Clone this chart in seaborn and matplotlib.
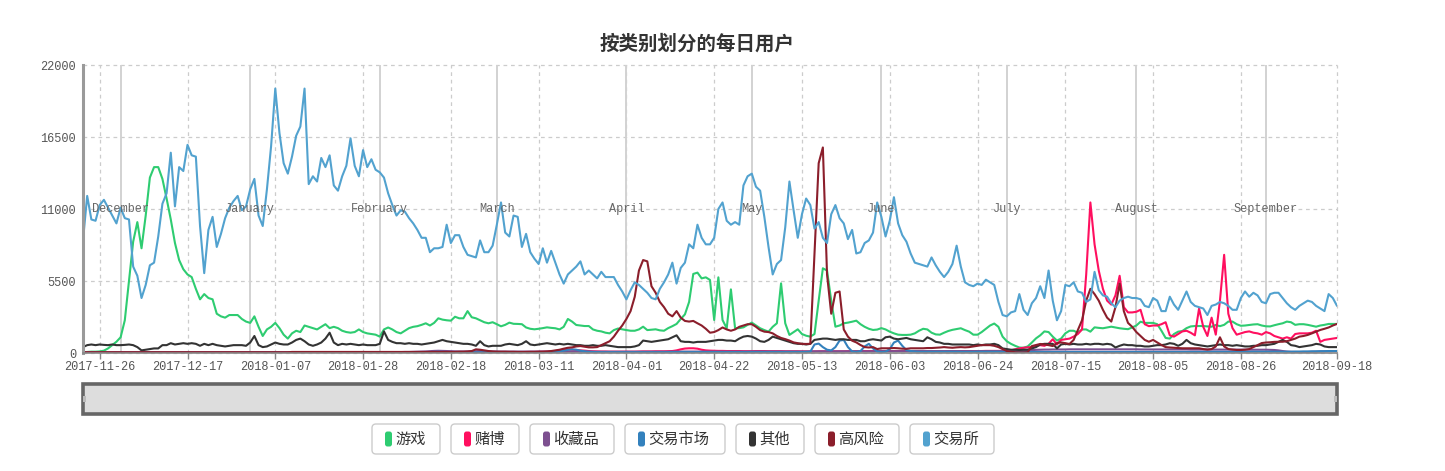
import numpy as np
import pandas as pd
import matplotlib
matplotlib.use("Agg")
import matplotlib.pyplot as plt
import seaborn as sns
from matplotlib.patches import FancyBboxPatch, Rectangle

# ---------------- data ----------------
title = "按类别划分的每日用户"
categories = ["游戏", "赌博", "收藏品", "交易市场", "其他", "高风险", "交易所"]
colors = ["#2ecc71", "#ff0f5f", "#7d5090", "#3381bd", "#333333", "#8b1e2b", "#52a2cf"]
start_date = "2017-11-22"
end_date = "2018-09-18"

x_tick_labels = ["2017-11-26", "2017-12-17", "2018-01-07", "2018-01-28", "2018-02-18",
                 "2018-03-11", "2018-04-01", "2018-04-22", "2018-05-13", "2018-06-03",
                 "2018-06-24", "2018-07-15", "2018-08-05", "2018-08-26", "2018-09-18"]
y_ticks = [0, 5500, 11000, 16500, 22000]
month_starts = ["2017-12-01", "2018-01-01", "2018-02-01", "2018-03-01", "2018-04-01",
                "2018-05-01", "2018-06-01", "2018-07-01", "2018-08-01", "2018-09-01"]
month_names = ["December", "January", "February", "March", "April",
               "May", "June", "July", "August", "September"]

game = [
    50, 80, 100, 100, 120, 180, 350, 600, 860, 1200,
    2500, 5500, 8500, 10000, 8000, 10500, 13400, 14200, 14200, 13300,
    11800, 10200, 8400, 7100, 6400, 6000, 5800, 4900, 4100, 4500,
    4200, 4100, 3000, 2800, 2700, 2900, 2900, 2900, 2600, 2400,
    2300, 2800, 2000, 1300, 1800, 2000, 2300, 1900, 1400, 1100,
    1500, 1700, 1600, 2100, 2000, 1900, 1800, 2000, 2200, 1900,
    2000, 1900, 1700, 1600, 1550, 1600, 1800, 1600, 1500, 1450,
    1400, 1250, 1800, 1950, 1800, 1600, 1500, 1700, 1900, 2000,
    2050, 2150, 2270, 2100, 2300, 2650, 2550, 2500, 2470, 2770,
    2650, 2650, 3200, 2730, 2650, 2500, 2350, 2270, 2350, 2200,
    2040, 2150, 2320, 2230, 2220, 2200, 1950, 1850, 1810, 1850,
    1900, 1960, 1920, 1890, 1800, 2000, 2600, 2400, 2140, 2100,
    2060, 2060, 1800, 1700, 1650, 1550, 1500, 1750, 1870, 1810,
    1750, 1700, 1700, 1800, 2010, 1750, 1780, 1810, 1730, 1700,
    1900, 2050, 2220, 2600, 2950, 3900, 6040, 6140, 5700, 5780,
    5580, 2520, 5780, 2520, 1890, 4860, 1890, 1900, 1960, 2150,
    2320, 2100, 1890, 1750, 1630, 2000, 2270, 5320, 2270, 1380,
    1600, 1810, 1450, 1320, 1250, 1450, 4000, 6470, 6300, 4000,
    2010, 2100, 2270, 2320, 2390, 2470, 2200, 2000, 1850, 1760,
    1790, 1900, 1800, 1630, 1500, 1400, 1380, 1380, 1400, 1500,
    1700, 1850, 1800, 1550, 1420, 1400, 1550, 1680, 1770, 1830,
    1890, 1750, 1630, 1400, 1400, 1600, 1850, 2100, 2250, 2000,
    1250, 900, 700, 550, 420, 400, 500, 800, 1120, 1350,
    1650, 1600, 1250, 950, 1100, 1500, 1700, 1700, 1550, 1800,
    1800, 1630, 1960, 1920, 1890, 1950, 2010, 1950, 1890, 1850,
    1820, 1950, 2100, 2390, 2300, 2300, 2300, 2200, 1700, 1150,
    1100, 1450, 1630, 1680, 1900, 2030, 2060, 2060, 2060, 2030,
    2010, 2140, 2050, 2150, 2400, 2400, 2200, 2080, 2100, 2140,
    2180, 2200, 2100, 2040, 2030, 2120, 2200, 2270, 2400, 2350,
    2150, 2200, 2200, 2150, 2080, 2010, 2100, 2150, 2220, 2220,
    2220,
]

gambling = [
    40, 40, 40, 40, 40, 40, 40, 40, 40, 40,
    40, 40, 40, 40, 40, 40, 40, 40, 40, 40,
    40, 40, 40, 40, 40, 40, 40, 40, 40, 40,
    40, 40, 40, 40, 40, 40, 40, 40, 40, 40,
    40, 40, 40, 40, 40, 40, 40, 40, 40, 40,
    40, 40, 40, 40, 40, 40, 40, 40, 40, 40,
    40, 40, 40, 40, 40, 40, 40, 40, 40, 40,
    40, 40, 40, 40, 40, 40, 40, 40, 40, 40,
    40, 40, 40, 40, 40, 40, 40, 40, 40, 40,
    40, 40, 40, 40, 50, 50, 50, 50, 50, 50,
    60, 60, 60, 70, 70, 70, 80, 80, 80, 90,
    100, 100, 120, 150, 200, 250, 270, 250, 230, 200,
    180, 150, 130, 120, 110, 110, 100, 100, 100, 100,
    100, 100, 100, 110, 120, 120, 120, 130, 130, 130,
    140, 150, 200, 280, 340, 360, 360, 330, 250, 200,
    180, 170, 160, 160, 150, 150, 150, 150, 140, 140,
    140, 150, 150, 150, 140, 140, 140, 140, 130, 130,
    130, 130, 120, 120, 120, 120, 130, 130, 130, 130,
    130, 130, 130, 140, 140, 140, 150, 150, 150, 150,
    150, 150, 150, 150, 150, 150, 150, 150, 150, 150,
    150, 140, 140, 140, 140, 140, 140, 150, 150, 150,
    150, 150, 150, 150, 150, 150, 160, 160, 160, 160,
    160, 170, 200, 280, 350, 400, 430, 450, 550, 600,
    550, 700, 1050, 650, 1000, 1050, 1100, 1250, 1450, 1800,
    6000, 11500, 8300, 6300, 4900, 4000, 3700, 4400, 5900, 3500,
    3100, 3100, 3150, 3300, 2200, 2050, 2100, 2100, 2200, 2350,
    1350, 1250, 1450, 1650, 1700, 1550, 1350, 3400, 2000, 1300,
    2700, 1400, 4000, 7500, 3000, 1900, 1400, 1500, 1600, 1650,
    1550, 1500, 1400, 1600, 1500, 1300, 1200, 1100, 1200, 1100,
    1450, 1500, 1500, 1500, 1550, 1700, 850, 1000, 1050, 1100,
    1150,
]

collectibles = [
    30, 30, 30, 30, 30, 30, 30, 30, 40, 40,
    40, 40, 40, 40, 40, 40, 40, 40, 40, 40,
    40, 40, 40, 40, 40, 40, 40, 40, 40, 40,
    40, 40, 40, 40, 40, 40, 40, 40, 40, 40,
    50, 50, 50, 50, 50, 50, 50, 50, 50, 50,
    50, 50, 50, 50, 50, 50, 50, 50, 50, 50,
    60, 60, 60, 60, 60, 60, 60, 60, 60, 60,
    60, 60, 60, 60, 70, 70, 70, 80, 80, 90,
    100, 110, 120, 140, 160, 170, 160, 150, 140, 130,
    120, 120, 120, 130, 140, 150, 140, 130, 120, 120,
    110, 110, 110, 110, 110, 110, 110, 110, 110, 110,
    110, 110, 110, 110, 110, 110, 110, 110, 110, 110,
    100, 100, 100, 100, 100, 100, 100, 100, 100, 100,
    100, 100, 100, 100, 100, 100, 100, 100, 100, 100,
    100, 110, 110, 110, 110, 110, 110, 110, 110, 110,
    110, 110, 110, 110, 110, 110, 110, 110, 110, 110,
    120, 120, 120, 120, 120, 120, 120, 120, 120, 120,
    120, 120, 120, 120, 120, 130, 130, 130, 130, 130,
    130, 130, 130, 130, 130, 130, 130, 130, 130, 130,
    140, 140, 140, 140, 140, 140, 140, 140, 140, 140,
    140, 140, 140, 140, 140, 140, 140, 140, 140, 140,
    140, 140, 140, 140, 150, 150, 150, 150, 150, 150,
    150, 150, 160, 160, 170, 180, 200, 220, 240, 250,
    260, 260, 270, 270, 270, 270, 280, 280, 280, 280,
    280, 280, 280, 280, 280, 280, 280, 280, 280, 280,
    280, 280, 280, 270, 270, 270, 270, 270, 270, 270,
    270, 270, 270, 270, 270, 260, 260, 260, 260, 260,
    260, 260, 260, 260, 260, 260, 260, 260, 260, 250,
    250, 250, 250, 250, 240, 230, 200, 150, 110, 90,
    80, 80, 80, 80, 90, 100, 110, 120, 130, 140,
    150,
]

marketplaces = [
    20, 20, 20, 20, 20, 20, 20, 20, 20, 20,
    20, 20, 20, 20, 20, 20, 20, 20, 20, 20,
    20, 20, 20, 20, 20, 20, 20, 20, 20, 20,
    20, 20, 20, 20, 20, 20, 20, 20, 20, 20,
    20, 20, 20, 20, 20, 20, 20, 20, 20, 20,
    30, 30, 30, 30, 30, 30, 30, 30, 30, 30,
    30, 30, 30, 30, 30, 30, 30, 30, 30, 30,
    30, 30, 30, 30, 30, 30, 30, 30, 30, 30,
    40, 50, 60, 70, 80, 90, 80, 70, 60, 50,
    50, 50, 50, 50, 50, 50, 50, 50, 50, 50,
    50, 50, 50, 50, 50, 50, 50, 50, 50, 50,
    50, 60, 70, 90, 120, 180, 240, 280, 250, 180,
    130, 100, 80, 70, 60, 60, 60, 60, 60, 60,
    60, 60, 60, 60, 60, 60, 60, 60, 60, 60,
    70, 70, 70, 70, 70, 70, 70, 70, 70, 70,
    70, 70, 70, 70, 70, 70, 70, 70, 70, 70,
    70, 70, 70, 70, 70, 70, 70, 70, 70, 70,
    70, 70, 70, 80, 100, 650, 720, 450, 250, 200,
    450, 950, 1000, 450, 120, 80, 150, 500, 700, 350,
    120, 80, 100, 300, 800, 950, 550, 220, 150, 120,
    100, 100, 100, 100, 100, 100, 100, 100, 100, 100,
    90, 90, 90, 90, 90, 90, 90, 90, 90, 90,
    80, 80, 80, 80, 80, 80, 80, 80, 80, 80,
    80, 80, 80, 80, 80, 80, 80, 80, 80, 80,
    80, 80, 80, 80, 80, 80, 80, 80, 80, 80,
    80, 80, 80, 80, 80, 80, 80, 80, 80, 80,
    80, 80, 80, 80, 80, 80, 80, 80, 80, 80,
    90, 90, 90, 90, 90, 90, 90, 90, 90, 90,
    100, 100, 100, 100, 100, 100, 100, 100, 100, 100,
    110, 110, 120, 120, 130, 130, 140, 140, 150, 150,
    150,
]

other = [
    450, 600, 650, 600, 650, 620, 600, 650, 600, 600,
    620, 650, 600, 450, 200, 250, 300, 350, 350, 600,
    600, 750, 650, 700, 750, 700, 750, 700, 550, 700,
    600, 700, 600, 550, 500, 550, 600, 600, 600, 550,
    800, 1300, 600, 450, 500, 650, 800, 700, 650, 650,
    800, 1000, 1100, 900, 650, 550, 650, 800, 1100, 1550,
    800, 600, 700, 650, 700, 650, 600, 650, 600, 600,
    600, 700, 1650, 1000, 850, 750, 750, 700, 750, 700,
    700, 650, 700, 750, 800, 900, 1000, 900, 850, 800,
    750, 700, 700, 650, 550, 900, 600, 500, 550, 550,
    550, 650, 700, 650, 600, 700, 900, 650, 600, 650,
    700, 750, 700, 650, 700, 650, 700, 650, 600, 600,
    550, 550, 600, 550, 550, 600, 550, 500, 450, 450,
    450, 450, 500, 600, 950, 900, 850, 900, 950, 1000,
    1050, 1200, 1350, 900, 850, 850, 800, 850, 850, 850,
    900, 950, 1000, 1000, 950, 950, 900, 1100, 1250, 1300,
    1250, 1100, 900, 850, 1000, 1250, 1150, 1050, 950, 850,
    750, 700, 700, 650, 700, 1000, 1050, 1100, 1100, 1050,
    1000, 1050, 1050, 1000, 1000, 1000, 900, 900, 1000, 1050,
    1000, 950, 1200, 1250, 1100, 1050, 1100, 1150, 1050, 1000,
    950, 900, 1200, 1050, 850, 800, 700, 700, 650, 650,
    650, 650, 650, 600, 650, 600, 650, 650, 700, 600,
    350, 300, 250, 250, 230, 250, 250, 350, 450, 650,
    700, 700, 700, 350, 650, 700, 650, 700, 650, 650,
    700, 650, 700, 700, 650, 700, 650, 420, 550, 650,
    600, 600, 550, 550, 500, 500, 550, 600, 600, 650,
    750, 700, 550, 700, 1000, 750, 650, 600, 550, 500,
    550, 600, 650, 600, 600, 550, 600, 550, 500, 500,
    550, 550, 600, 600, 650, 700, 850, 1000, 850, 600,
    550, 450, 500, 550, 600, 700, 650, 500, 450, 450,
    450,
]

high_risk = [
    60, 60, 60, 60, 60, 60, 60, 60, 60, 60,
    60, 60, 60, 60, 60, 60, 60, 60, 60, 60,
    60, 60, 60, 60, 60, 60, 60, 60, 60, 60,
    60, 60, 60, 60, 60, 60, 60, 60, 60, 60,
    60, 60, 60, 60, 60, 60, 60, 60, 60, 60,
    80, 80, 80, 80, 80, 80, 80, 80, 80, 80,
    80, 80, 80, 80, 80, 80, 80, 80, 80, 80,
    80, 80, 80, 80, 80, 80, 80, 80, 80, 80,
    80, 80, 80, 80, 80, 80, 80, 80, 80, 80,
    100, 100, 120, 150, 280, 250, 200, 150, 120, 100,
    100, 100, 90, 90, 80, 80, 80, 90, 90, 100,
    100, 120, 150, 200, 250, 330, 400, 430, 500, 530,
    480, 430, 430, 450, 600, 750, 900, 1250, 1700, 2100,
    2600, 3200, 4300, 6300, 7100, 7000, 5100, 4600, 3900, 3500,
    3000, 2800, 3200, 2700, 2450, 2400, 2450, 2270, 2100, 1850,
    1550, 1600, 1750, 1950, 1800, 1700, 1800, 2000, 2100, 2200,
    2200, 2000, 1750, 1630, 1600, 1500, 1300, 1150, 1060, 950,
    810, 750, 700, 690, 700, 7600, 14500, 15700, 6000, 3000,
    4600, 4700, 1800, 1250, 940, 810, 610, 450, 420, 450,
    300, 360, 360, 360, 380, 360, 330, 320, 360, 360,
    360, 360, 380, 380, 400, 420, 450, 420, 400, 430,
    450, 430, 450, 500, 550, 600, 600, 600, 550, 450,
    300, 150, 100, 60, 50, 50, 60, 530, 610, 690,
    650, 600, 530, 760, 810, 750, 690, 1000, 1760, 2500,
    4000, 4900, 4500, 4000, 3300, 2700, 2400, 3500, 5300, 3200,
    2300, 2000, 1600, 1300, 1000, 860, 1000, 800, 610, 450,
    420, 400, 380, 360, 360, 360, 360, 360, 300, 260,
    300, 500, 1200, 500, 300, 260, 230, 230, 250, 300,
    450, 600, 760, 800, 820, 850, 860, 860, 900, 1000,
    1100, 1250, 1300, 1380, 1500, 1630, 1760, 1850, 1950, 2100,
    2220,
]

exchanges = [
    8600, 12000, 10200, 10100, 11300, 11700, 11100, 10500, 9900, 11100,
    10300, 10200, 6600, 5900, 4200, 5200, 6700, 6900, 8900, 11400,
    12200, 15300, 11200, 14200, 13900, 15900, 15100, 15000, 9700, 6100,
    9400, 10400, 8100, 9100, 10300, 11100, 11600, 12000, 10900, 11200,
    12500, 13300, 10500, 9700, 12500, 15800, 20200, 16800, 14500, 13700,
    15000, 16600, 17300, 20200, 12900, 13500, 13100, 14900, 14200, 15100,
    12800, 12400, 13500, 14300, 16400, 14300, 13500, 15500, 14200, 14800,
    14000, 13800, 13400, 12200, 11300, 10500, 10900, 10800, 10300, 9900,
    9400, 8800, 8800, 7700, 8000, 8000, 8100, 9800, 8400, 9000,
    9000, 8100, 7500, 7400, 7300, 8600, 7700, 7700, 8200, 9800,
    11500, 9200, 8900, 10500, 10400, 8100, 9100, 7700, 7200, 6800,
    8000, 6900, 7800, 6900, 6000, 5300, 6000, 6300, 6600, 7000,
    6000, 6300, 6000, 5700, 6200, 5800, 5800, 5800, 5200, 4700,
    4100, 4800, 5400, 5200, 4900, 4600, 4200, 4100, 4900, 5400,
    6000, 6900, 5300, 6500, 6900, 8300, 8000, 9800, 8800, 8300,
    8300, 8800, 11000, 11500, 10100, 9800, 10000, 9800, 12800, 13500,
    13700, 12700, 12400, 10400, 8100, 6000, 6800, 7100, 9600, 13100,
    10900, 8800, 10600, 11800, 11300, 9500, 10000, 8800, 8400, 10600,
    11300, 10300, 9900, 8700, 9400, 7600, 7700, 8400, 8600, 9200,
    11500, 10400, 8900, 10100, 11900, 9900, 9000, 8500, 7600, 6900,
    6800, 6700, 6600, 7300, 6700, 6200, 5800, 6200, 6800, 8200,
    6600, 5400, 5200, 5100, 5300, 5200, 5600, 5400, 5200, 3900,
    2900, 2800, 3100, 3200, 4500, 3300, 2900, 3800, 4200, 5100,
    4200, 6300, 4000, 2500, 3200, 5200, 5100, 5400, 4700, 4600,
    3900, 4100, 6200, 4800, 4400, 4300, 3800, 3500, 4000, 4200,
    4300, 4200, 4200, 4100, 3600, 3500, 4200, 4000, 3200, 3200,
    4300, 3700, 3300, 4000, 4700, 3900, 3600, 3500, 3400, 2900,
    3600, 3700, 3900, 3800, 3600, 3300, 3300, 4200, 4700, 4300,
    4600, 4400, 3900, 3800, 4500, 4600, 4600, 4200, 3800, 3500,
    3300, 3600, 3800, 4000, 3900, 3600, 3400, 3200, 4500, 4200,
    3600,
]

series_values = [game, gambling, collectibles, marketplaces, other, high_risk, exchanges]

frames = []
for cat, vals in zip(categories, series_values):
    dates = pd.date_range(start_date, periods=len(vals), freq="D")
    frames.append(pd.DataFrame({"date": dates, "users": vals, "category": cat}))
df = pd.concat(frames, ignore_index=True)
palette = dict(zip(categories, colors))

# ---------------- figure ----------------
sns.set_theme(style="white")
plt.rcParams["font.family"] = ["Noto Sans CJK SC", "DejaVu Sans"]
plt.rcParams["axes.unicode_minus"] = False

W, H = 1445, 471
fig = plt.figure(figsize=(W / 100, H / 100), dpi=100)
fig.patch.set_facecolor("white")

L, R, T, B = 83, 1337, 65, 353
ax = fig.add_axes([L / W, 1 - B / H, (R - L) / W, (B - T) / H])
ax.set_facecolor("white")

mono = "Liberation Mono"
grid_kw = dict(color="#cccccc", linestyle=(0, (3, 3)), linewidth=0.9)

# month separator lines
for ms in month_starts:
    ax.axvline(pd.Timestamp(ms), color="#d2d2d2", linewidth=1.4, zorder=0.6)
for yv in y_ticks:
    ax.axhline(yv, zorder=0.5, clip_on=False, **grid_kw)
tick_dates = pd.to_datetime(x_tick_labels)
for td in tick_dates:
    ax.axvline(td, zorder=0.5, clip_on=False, **grid_kw)

sns.lineplot(data=df, x="date", y="users", hue="category", hue_order=categories,
             palette=palette, linewidth=1.5, legend=False, ax=ax, estimator=None)

for ms, mn in zip(month_starts, month_names):
    ax.text(pd.Timestamp(ms), 11000, mn, ha="center", va="center",
            fontsize=8.6, family=mono, color="#666666", zorder=5)

ax.set_xlim(pd.Timestamp(start_date), pd.Timestamp(end_date))
ax.set_ylim(0, 22000)
ax.set_xticks(tick_dates)
ax.set_xticklabels(x_tick_labels, family=mono, fontsize=8.6, color="#555555")
ax.set_yticks(y_ticks)
ax.set_yticklabels([str(v) for v in y_ticks], family=mono, fontsize=8.6, color="#555555")
ax.tick_params(axis="x", length=4, width=1, color="#888888", pad=2, direction="out", bottom=True)
ax.tick_params(axis="y", length=0, pad=5)
ax.set_xlabel("")
ax.set_ylabel("")
ax.grid(False)
for s in ["top", "right"]:
    ax.spines[s].set_visible(False)
ax.spines["left"].set_color("#9a9a9a")
ax.spines["left"].set_linewidth(2.2)
ax.spines["bottom"].set_color("#888888")
ax.spines["bottom"].set_linewidth(1.2)

# title
fig.text(697 / W, 1 - 44 / H, title, ha="center", va="center",
         fontsize=14, fontweight="bold", color="#333333")

# ---------------- overlay: slider + legend buttons ----------------
ov = fig.add_axes([0, 0, 1, 1])
ov.set_xlim(0, W)
ov.set_ylim(H, 0)
ov.axis("off")
ov.patch.set_alpha(0)

ov.add_patch(Rectangle((L, 384), R - L, 30, facecolor="#dddddd", edgecolor="#666666", linewidth=2.6))
for hx in (L + 1.5, R - 1.5):
    ov.add_patch(Rectangle((hx - 1.5, 396), 3, 6, facecolor="#bbbbbb", edgecolor="none"))

widths = [36 + 16 * len(c) for c in categories]
gap = 11
total = sum(widths) + gap * (len(categories) - 1)
x0 = 683 - total / 2
by0, bh = 424, 30
for cat, col, w in zip(categories, colors, widths):
    ov.add_patch(FancyBboxPatch((x0, by0), w, bh, boxstyle="round,pad=0,rounding_size=4",
                                facecolor="white", edgecolor="#cccccc", linewidth=1))
    ov.add_patch(FancyBboxPatch((x0 + 13, by0 + 7.5), 7, 15, boxstyle="round,pad=0,rounding_size=2.5",
                                facecolor=col, edgecolor="none"))
    ov.text(x0 + 23, by0 + bh / 2 + 0.5, cat, ha="left", va="center", fontsize=11, color="#333333")
    x0 += w + gap

fig.savefig("out.png", dpi=100, facecolor="white")
